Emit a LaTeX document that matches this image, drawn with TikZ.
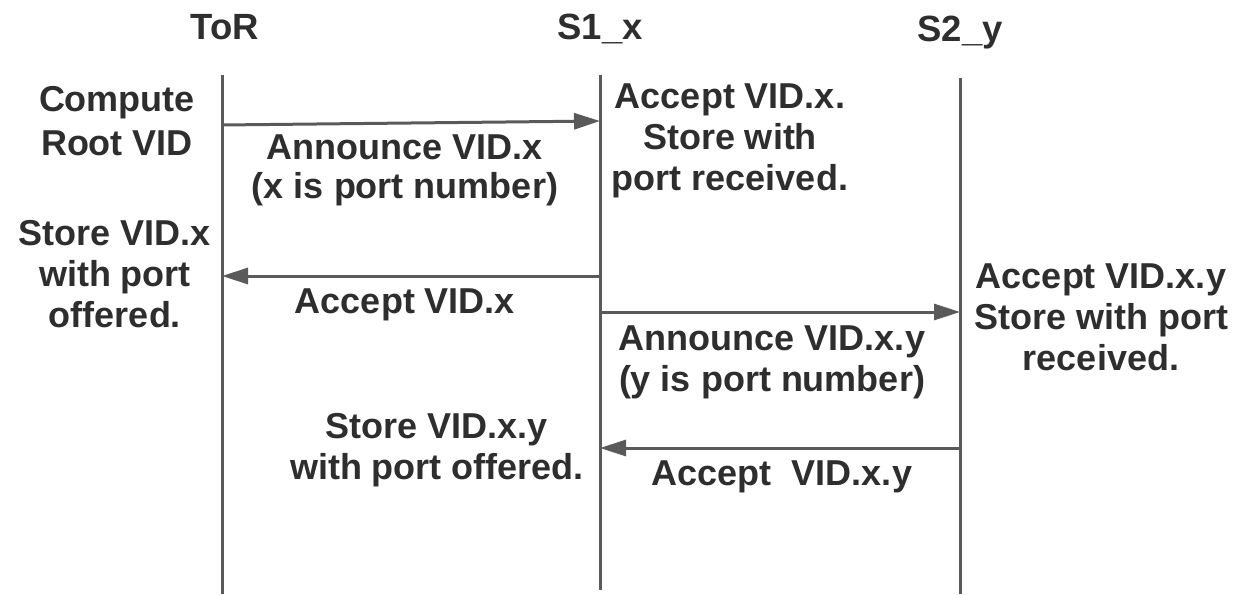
\documentclass[tikz,border=0pt]{standalone}
\usepackage{fontspec}
\setmainfont{Liberation Sans}
\usetikzlibrary{arrows.meta}

\definecolor{inkgray}{HTML}{2E2E2E}
\definecolor{wiregray}{HTML}{5A5A5A}

\tikzset{
  head/.style={anchor=north, inner sep=0pt, text=inkgray,
    font=\fontsize{36.5}{40}\selectfont\bfseries},
  note/.style={anchor=north, inner sep=0pt, align=center, text=inkgray,
    font=\fontsize{36}{#1}\selectfont\bfseries},
  note/.default=41,
  lifeline/.style={draw=wiregray, line width=3pt},
  msg/.style={draw=wiregray, line width=3pt,
    -{Triangle[length=26pt,width=16pt,fill=wiregray]}}
}

\begin{document}
\begin{tikzpicture}[x=1pt, y=-1pt]
  \useasboundingbox (0,0) rectangle (1244,594);

  % participants
  \node[head] (tor) at (225,14) {ToR};
  \node[head] (s1)  at (600,14) {S1\_x};
  \node[head] (s2)  at (960,16) {S2\_y};

  % lifelines
  \coordinate (torTop) at (222,75);  \coordinate (torBot) at (222,594);
  \coordinate (s1Top)  at (600,75);  \coordinate (s1Bot)  at (600,590);
  \coordinate (s2Top)  at (960,78);  \coordinate (s2Bot)  at (960,594);
  \draw[lifeline] (torTop) -- (torBot);
  \draw[lifeline] (s1Top) -- (s1Bot);
  \draw[lifeline] (s2Top) -- (s2Bot);

  % message endpoints on the lifelines
  \coordinate (m1a) at (222,125); \coordinate (m1b) at (600,121);
  \coordinate (m2a) at (600,276); \coordinate (m2b) at (222,276);
  \coordinate (m3a) at (600,312); \coordinate (m3b) at (960,312);
  \coordinate (m4a) at (960,448); \coordinate (m4b) at (600,448);

  % messages
  \draw[msg] (m1a) -- (m1b);
  \draw[msg] (m2a) -- (m2b);
  \draw[msg] (m3a) -- (m3b);
  \draw[msg] (m4a) -- (m4b);

  % actions and message labels
  \node[note=44] (compute) at (117,86)  {Compute\\Root VID};
  \node[note=39] (ann1)    at (405,135) {Announce VID.x\\(x is port number)};
  \node[note]    (acc1)    at (730,84)  {Accept VID.x.\\Store with\\port received.};
  \node[note]    (store1)  at (115,220) {Store VID.x\\with port\\offered.};
  \node[note]    (accx)    at (405,289) {Accept VID.x};
  \node[note]    (ann2)    at (772,326) {Announce VID.x.y\\(y is port number)};
  \node[note]    (acc2)    at (1101,264) {Accept VID.x.y\\Store with port\\received.};
  \node[note]    (store2)  at (437,413) {Store VID.x.y\\with port offered.};
  \node[note]    (accxy)   at (782,461) {Accept\ \ VID.x.y};
\end{tikzpicture}
\end{document}
